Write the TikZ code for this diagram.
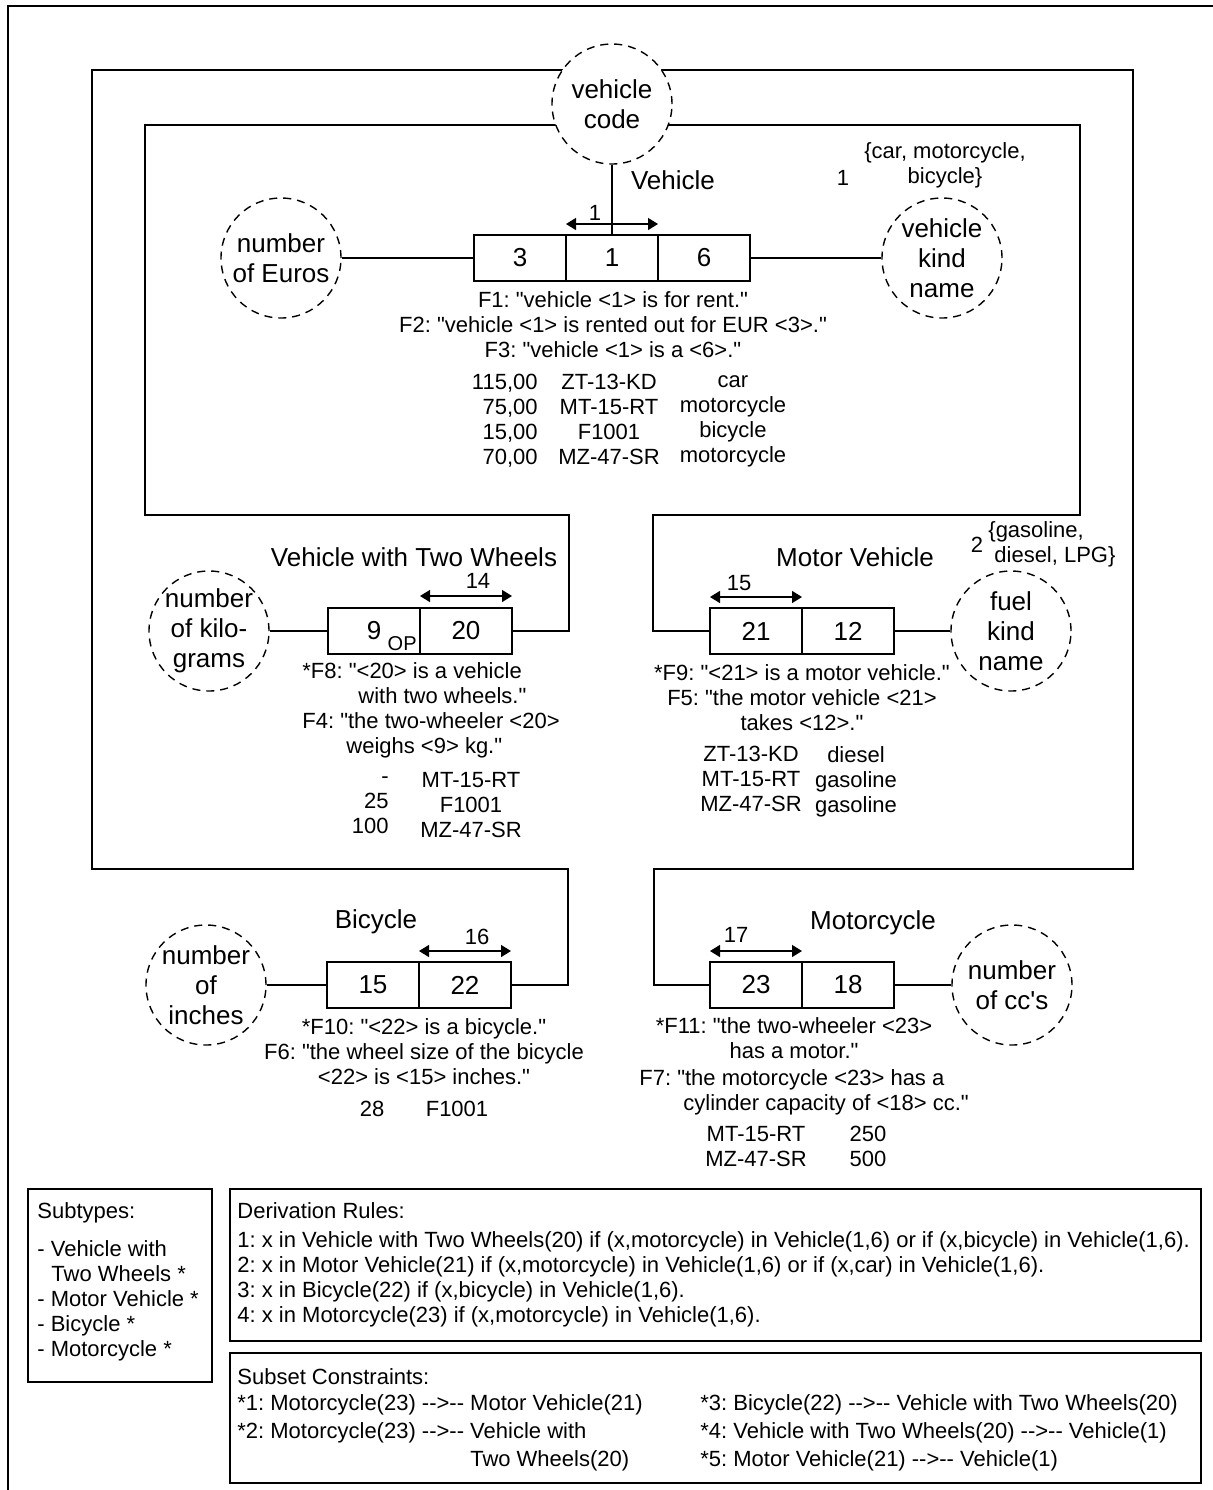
\documentclass[tikz,border=0pt]{standalone}
\usepackage{fontspec}
\setmainfont{Liberation Sans}[Ligatures=TeXOff]
\usetikzlibrary{positioning,arrows.meta}
\frenchspacing

\begin{document}
\begin{tikzpicture}[x=0.5pt,y=-0.5pt,
    cell/.style={draw,line width=0.9pt,minimum width=46pt,minimum height=23pt,
      inner sep=0pt,outer sep=0pt,font=\fontsize{13pt}{15pt}\selectfont},
    objtype/.style={circle,draw,line width=0.7pt,dash pattern=on 4pt off 3pt,
      fill=white,minimum size=60pt,inner sep=-6pt,align=center,
      font=\fontsize{13pt}{15pt}\selectfont},
    role/.style={line width=0.7pt},
    supline/.style={line width=0.9pt},
    uniq/.style={line width=0.7pt,
      {Triangle[length=5pt,width=6pt]}-{Triangle[length=5pt,width=6pt]}},
    typename/.style={font=\fontsize{13pt}{15pt}\selectfont,inner sep=0pt},
    txt/.style={font=\fontsize{11pt}{12.5pt}\selectfont,inner sep=0pt},
    lines/.style={txt,execute at begin node=\strut,execute at end node=\strut},
    panel/.style={line width=0.8pt}]

  \useasboundingbox (0,0) rectangle (1213,1490);
  \draw[line width=0.7pt] (8,1490) -- (8,6) -- (1213,6);

  %% Vehicle
  \node[cell] (vid) at (612,258) {1};
  \node[cell,left=0pt of vid] (vprice) {3};
  \node[cell,right=0pt of vid] (vkind) {6};
  \node[typename] (vname) at (673,180) {Vehicle};

  %% Vehicle with Two Wheels
  \node[cell] (twoid) at (466,631) {20};
  \node[cell,left=0pt of twoid] (tweight) {9};
  \node[font=\fontsize{10pt}{12pt}\selectfont,inner sep=1.5pt,anchor=south east]
    (tweightop) at (tweight.south east) {OP};
  \node[typename] (tname) at (414,557) {Vehicle with Two Wheels};

  %% Motor Vehicle
  \node[cell] (motorid) at (756,631) {21};
  \node[cell,right=0pt of motorid] (mfuel) {12};
  \node[typename] (mname) at (855,557) {Motor Vehicle};

  %% Bicycle
  \node[cell] (bikeid) at (465,985) {22};
  \node[cell,left=0pt of bikeid] (bwheel) {15};
  \node[typename] (bname) at (376,922) {Bicycle};

  %% Motorcycle
  \node[cell] (mcid) at (756,985) {23};
  \node[cell,right=0pt of mcid] (mcc) {18};
  \node[typename] (mcname) at (873,923) {Motorcycle};

  %% subtype lines back to the vehicle code
  \draw[supline] (twoid.east) -| (569,515) -| (145,125) -| (1080,515)
    -| (653,631) -- (motorid.west);
  \draw[supline] (bikeid.east) -| (568,869) -| (92,70) -| (1133,869)
    -| (654,985) -- (mcid.west);

  %% object types
  \node[objtype] (code) at (612,104) {vehicle\\code};
  \node[objtype] (euros) at (281,258) {number\\of Euros};
  \node[objtype] (kindname) at (942,258) {vehicle\\kind\\name};
  \node[objtype] (kilos) at (209,631) {number\\of kilo-\\grams};
  \node[objtype] (fuelkind) at (1011,631) {fuel\\kind\\name};
  \node[objtype] (inches) at (206,985) {number\\of\\inches};
  \node[objtype] (ccs) at (1012,985) {number\\of cc's};

  %% roles
  \draw[role] (code) -- (vid);
  \draw[role] (euros) -- (vprice);
  \draw[role] (vkind) -- (kindname);
  \draw[role] (kilos) -- (tweight);
  \draw[role] (mfuel) -- (fuelkind);
  \draw[role] (inches) -- (bwheel);
  \draw[role] (mcc) -- (ccs);

  %% uniqueness
  \draw[uniq] ([yshift=5.5pt]vid.north west) -- ([yshift=5.5pt]vid.north east);
  \draw[uniq] ([yshift=6pt]twoid.north west) -- ([yshift=6pt]twoid.north east);
  \draw[uniq] ([yshift=5.5pt]motorid.north west) -- ([yshift=5.5pt]motorid.north east);
  \draw[uniq] ([yshift=5.5pt]bikeid.north west) -- ([yshift=5.5pt]bikeid.north east);
  \draw[uniq] ([yshift=5.5pt]mcid.north west) -- ([yshift=5.5pt]mcid.north east);
  \node[txt] (vuniq) at (595,213) {1};
  \node[txt] (tuniq) at (478,581) {14};
  \node[txt] (muniq) at (739,583) {15};
  \node[txt] (buniq) at (477,937) {16};
  \node[txt] (mcuniq) at (736,935) {17};

  %% value constraints
  \node[txt] (vvalno) at (843,178) {1};
  \node[lines,align=center] (vval) at (945,167) {\{car, motorcycle,\\bicycle\}};
  \node[txt] (fvalno) at (977,545) {2};
  \node[lines,align=left,anchor=west] (fval) at (988,546)
    {\{gasoline,\\\hspace*{3pt}diesel, LPG\}};

  %% fact types and populations
  \node[lines,align=center] (vfacts) at (613,328)
    {F1: "vehicle <1> is for rent."\\F2: "vehicle <1> is rented out for EUR <3>."\\F3: "vehicle <1> is a <6>."};
  \node[lines,align=right,anchor=east] (vcol1) at (538,423) {115,00\\75,00\\15,00\\70,00};
  \node[lines,align=center] (vcol2) at (609,423) {ZT-13-KD\\MT-15-RT\\F1001\\MZ-47-SR};
  \node[lines,align=center] (vcol3) at (733,423) {car\\motorcycle\\bicycle\\motorcycle};

  \node[lines,align=left,anchor=west] (tfacts) at (302,712)
    {*F8: "<20> is a vehicle\\\hspace*{28pt}with two wheels."\\F4: "the two-wheeler <20>\\\hspace*{22pt}weighs <9> kg."};
  \node[lines,align=right,anchor=east] (tcol1) at (389,809) {-\\25\\100};
  \node[lines,align=center] (tcol2) at (471,809) {MT-15-RT\\F1001\\MZ-47-SR};

  \node[lines,align=center] (mfacts) at (802,701)
    {*F9: "<21> is a motor vehicle."\\F5: "the motor vehicle <21>\\takes <12>."};
  \node[lines,align=center] (mcol1) at (751,783) {ZT-13-KD\\MT-15-RT\\MZ-47-SR};
  \node[lines,align=center] (mcol2) at (856,783) {diesel\\gasoline\\gasoline};

  \node[lines,align=center] (bfacts) at (424,1055)
    {*F10: "<22> is a bicycle."\\F6: "the wheel size of the bicycle\\<22> is <15> inches."};
  \node[txt] (bcol1) at (372,1109) {28};
  \node[txt] (bcol2) at (457,1109) {F1001};

  \node[lines,align=center] (mcfacts) at (794,1042)
    {*F11: "the two-wheeler <23>\\has a motor."};
  \node[lines,align=left,anchor=west] (mcfacts2) at (639,1094)
    {F7: "the motorcycle <23> has a\\\hspace*{22pt}cylinder capacity of <18> cc."};
  \node[lines,align=center] (mccol1) at (756,1150) {MT-15-RT\\MZ-47-SR};
  \node[lines,align=center] (mccol2) at (868,1150) {250\\500};

  %% notes below the schema
  \draw[panel] (28,1189) rectangle (212,1382);
  \draw[panel] (230,1189) rectangle (1201,1341);
  \draw[panel] (230,1353) rectangle (1201,1483);

  \node[lines,align=left,anchor=north west] (subtypes) at (37,1202)
    {Subtypes:\\[6.5pt]- Vehicle with\\\hspace*{7pt}Two Wheels *\\- Motor Vehicle *\\- Bicycle *\\- Motorcycle *};
  \node[lines,align=left,anchor=north west] (rules) at (237,1202)
    {Derivation Rules:\\[2pt]1: x in Vehicle with Two Wheels(20) if (x,motorcycle) in Vehicle(1,6) or if (x,bicycle) in Vehicle(1,6).\\2: x in Motor Vehicle(21) if (x,motorcycle) in Vehicle(1,6) or if (x,car) in Vehicle(1,6).\\3: x in Bicycle(22) if (x,bicycle) in Vehicle(1,6).\\4: x in Motorcycle(23) if (x,motorcycle) in Vehicle(1,6).};
  \node[lines,anchor=north west] (subsets) at (237,1367) {Subset Constraints:};
  \node[txt,anchor=north west] (subsetsl) at (237,1390)
    {\renewcommand{\arraystretch}{1.12}\begin{tabular}{@{}l@{}l@{}}
      *1: Motorcycle(23) -->--~ & Motor Vehicle(21)\\
      {}*2: Motorcycle(23) -->--~ & Vehicle with\\
      & Two Wheels(20)
    \end{tabular}};
  \node[txt,anchor=north west] (subsetsr) at (700,1390)
    {\renewcommand{\arraystretch}{1.12}\begin{tabular}{@{}l@{}}
      *3: Bicycle(22) -->-- Vehicle with Two Wheels(20)\\
      {}*4: Vehicle with Two Wheels(20) -->-- Vehicle(1)\\
      {}*5: Motor Vehicle(21) -->-- Vehicle(1)
    \end{tabular}};

\end{tikzpicture}
\end{document}
